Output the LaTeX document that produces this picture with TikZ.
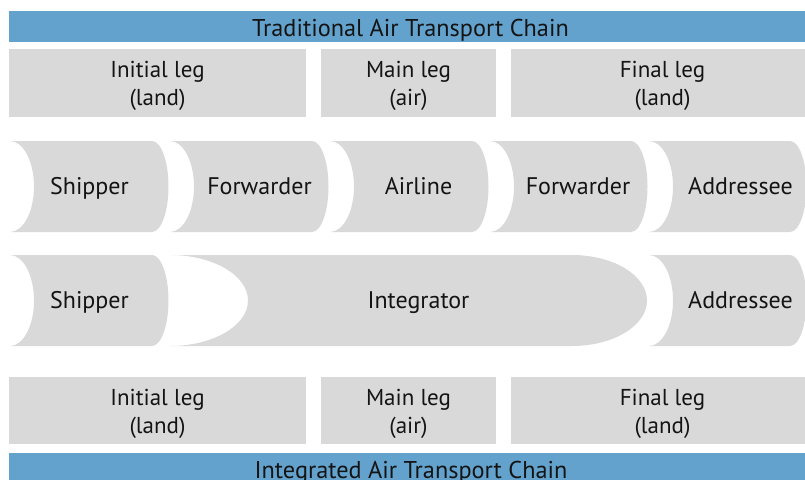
\documentclass[tikz,border=0pt]{standalone}
\usepackage{fontspec}
\setmainfont{PT Sans}
\definecolor{barblue}{RGB}{99,162,205}
\definecolor{boxgray}{RGB}{217,217,217}
\definecolor{txt}{RGB}{20,20,20}
\newcommand{\chevfill}[6]{% x0, xstraightend, notch depth, bulge depth, top, bottom
  \pgfmathsetmacro\chmid{(#5+#6)/2}%
  \pgfmathsetmacro\chrad{(#6-#5)/2}%
  \fill[boxgray] (#1,#5) -- (#2,#5)
    .. controls ({#2+0.5523*#4},#5) and ({#2+#4},{\chmid-0.5523*\chrad}) .. ({#2+#4},\chmid)
    .. controls ({#2+#4},{\chmid+0.5523*\chrad}) and ({#2+0.5523*#4},#6) .. (#2,#6)
    -- (#1,#6)
    .. controls ({#1+0.5523*#3},#6) and ({#1+#3},{\chmid+0.5523*\chrad}) .. ({#1+#3},\chmid)
    .. controls ({#1+#3},{\chmid-0.5523*\chrad}) and ({#1+0.5523*#3},#5) .. (#1,#5) -- cycle;
}
\begin{document}
\begin{tikzpicture}[x=1pt,y=-1pt,
  bar/.style={fill=barblue, inner sep=0pt, anchor=north west},
  legbox/.style={fill=boxgray, inner sep=0pt, anchor=north west},
  legtxt/.style={text=txt, inner sep=0pt, align=center, font=\fontsize{23}{28}\selectfont},
  lbl/.style={anchor=base, text=txt, inner sep=0pt, font=\fontsize{24}{28}\selectfont},
  ttl/.style={anchor=base, text=txt, inner sep=0pt, font=\fontsize{24.3}{28}\selectfont}]
\useasboundingbox (0,0) rectangle (805,479);
\clip (0,0) rectangle (805,479);
% top bar
\node[bar, minimum width=810pt, minimum height=31pt] (tbar) at (9,11) {};
\node[ttl] (ttitle) at (410.5,36.7) {Traditional Air Transport Chain};
% top leg boxes
\node[legbox, minimum width=297pt, minimum height=68pt] (tl1) at (9,49) {};
\node[legbox, minimum width=175pt, minimum height=68pt] (tl2) at (321,49) {};
\node[legbox, minimum width=303pt, minimum height=68pt] (tl3) at (511,49) {};
\node[legtxt] (tl1t) at (157.5,86) {Initial leg\\(land)};
\node[legtxt] (tl2t) at (408.5,86) {Main leg\\(air)};
\node[legtxt] (tl3t) at (662.5,86) {Final leg\\(land)};
% row 1 chevrons
\chevfill{10}{152}{24}{16.5}{141}{232}
\chevfill{170}{312}{24}{16.5}{141}{232}
\chevfill{330}{472}{24}{16.5}{141}{232}
\chevfill{490}{631}{24}{16.5}{141}{232}
\chevfill{649}{790}{24}{16.5}{141}{232}
\node[lbl] (s1) at (89.5,194.3) {Shipper};
\node[lbl] (f1) at (259.5,194.3) {Forwarder};
\node[lbl] (a1) at (418.5,194.3) {Airline};
\node[lbl] (f2) at (578,194.3) {Forwarder};
\node[lbl] (d1) at (740.5,194.3) {Addressee};
% row 2 chevrons
\chevfill{10}{152}{24}{16.5}{255}{346}
\chevfill{170}{572}{78}{75}{255}{346}
\chevfill{649}{790}{24}{16.5}{255}{346}
\node[lbl] (s2) at (89.5,308.6) {Shipper};
\node[lbl] (i2) at (418.5,308.6) {Integrator};
\node[lbl] (d2) at (740.5,308.6) {Addressee};
% bottom leg boxes
\node[legbox, minimum width=297pt, minimum height=67pt] (bl1) at (9,377) {};
\node[legbox, minimum width=175pt, minimum height=67pt] (bl2) at (321,377) {};
\node[legbox, minimum width=303pt, minimum height=67pt] (bl3) at (511,377) {};
\node[legtxt] (bl1t) at (157.5,413.5) {Initial leg\\(land)};
\node[legtxt] (bl2t) at (408.5,413.5) {Main leg\\(air)};
\node[legtxt] (bl3t) at (662.5,413.5) {Final leg\\(land)};
% bottom bar
\node[bar, minimum width=810pt, minimum height=40pt] (bbar) at (9,453) {};
\node[ttl] (btitle) at (411,478) {Integrated Air Transport Chain};
\end{tikzpicture}
\end{document}
